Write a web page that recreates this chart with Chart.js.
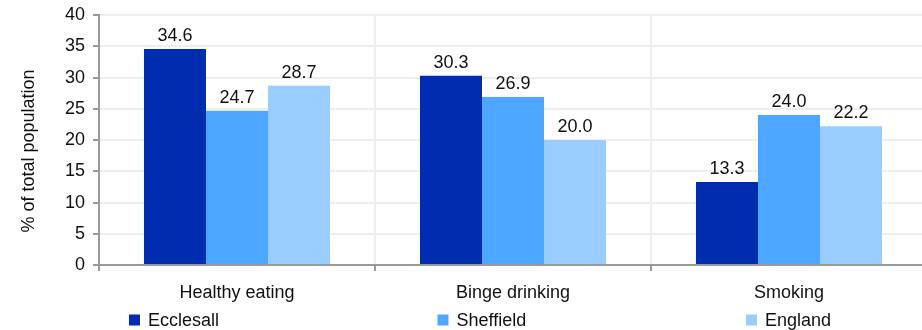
<!DOCTYPE html>
<html>
<head>
<meta charset="utf-8">
<script src="https://cdn.jsdelivr.net/npm/chart.js@4/dist/chart.umd.min.js"></script>
<style>
html,body{margin:0;padding:0;background:#fff;overflow:hidden;}
#wrap{width:922px;height:330px;position:relative;overflow:hidden;}
</style>
</head>
<body>
<div id="wrap"><canvas id="c" width="927" height="330"></canvas></div>
<script>
const categories = ["Healthy eating", "Binge drinking", "Smoking"];
const seriesNames = ["Ecclesall", "Sheffield", "England"];
const ecclesall = [34.6, 30.3, 13.3];
const sheffield = [24.7, 26.9, 24.0];
const england = [28.7, 20.0, 22.2];
const yTicks = [0, 5, 10, 15, 20, 25, 30, 35, 40];
const yTitle = "% of total population";
const colors = ["#002DAF", "#4DA6FF", "#99CCFF"];

const FONT = "'Liberation Sans', Arial, sans-serif";
const FS = 18;

const valueLabels = {
  id: 'valueLabels',
  afterDatasetsDraw(chart) {
    const ctx = chart.ctx;
    ctx.save();
    ctx.font = FS + "px " + FONT;
    ctx.fillStyle = "#111";
    ctx.textAlign = "center";
    ctx.textBaseline = "bottom";
    chart.data.datasets.forEach((ds, i) => {
      chart.getDatasetMeta(i).data.forEach((bar, j) => {
        ctx.fillText(ds.data[j].toFixed(1), bar.x, bar.y - 4);
      });
    });
    ctx.restore();
  }
};

const customLegend = {
  id: 'customLegend',
  afterDraw(chart) {
    const ctx = chart.ctx;
    ctx.save();
    ctx.font = FS + "px " + FONT;
    ctx.textBaseline = "middle";
    ctx.textAlign = "left";
    chart.data.datasets.forEach((ds, i) => {
      const x = 129 + i * 308.5;
      const y = 320;
      ctx.fillStyle = ds.backgroundColor;
      ctx.fillRect(x, y - 5.5, 11, 11);
      ctx.fillStyle = "#111";
      ctx.fillText(ds.label, x + 19, y + 1);
    });
    ctx.restore();
    // y-axis title
    ctx.save();
    ctx.font = FS + "px " + FONT;
    ctx.fillStyle = "#111";
    ctx.textAlign = "center";
    ctx.textBaseline = "middle";
    ctx.translate(29, 151);
    ctx.rotate(-Math.PI / 2);
    ctx.fillText(yTitle, 0, 0);
    ctx.restore();
  }
};

new Chart(document.getElementById('c'), {
  type: 'bar',
  data: {
    labels: categories,
    datasets: [
      { label: seriesNames[0], data: ecclesall, backgroundColor: colors[0] },
      { label: seriesNames[1], data: sheffield, backgroundColor: colors[1] },
      { label: seriesNames[2], data: england, backgroundColor: colors[2] }
    ]
  },
  options: {
    responsive: false,
    animation: false,
    devicePixelRatio: 1,
    layout: { padding: { top: 15, right: 0, left: 0, bottom: 0 } },
    datasets: { bar: { categoryPercentage: 0.674, barPercentage: 1.0 } },
    plugins: {
      legend: { display: false },
      tooltip: { enabled: false }
    },
    scales: {
      x: {
        afterFit(s) { s.height = 65; },
        grid: { offset: true, color: '#eeeeee', lineWidth: 2, tickColor: '#999999', tickLength: 6, drawTicks: true },
        border: { color: '#999999', width: 2 },
        ticks: { color: '#111', font: { family: FONT, size: FS }, padding: 11 }
      },
      y: {
        min: 0, max: 40,
        afterFit(s) { s.width = 99; },
        afterBuildTicks(s) { s.ticks = yTicks.map(v => ({ value: v })); },
        grid: { color: '#eeeeee', lineWidth: 2, tickColor: '#999999', tickLength: 6 },
        border: { color: '#999999', width: 2 },
        ticks: { color: '#111', font: { family: FONT, size: FS, lineHeight: 0.8 }, padding: 8 },
        title: { display: false }
      }
    }
  },
  plugins: [valueLabels, customLegend]
});
</script>
</body>
</html>
